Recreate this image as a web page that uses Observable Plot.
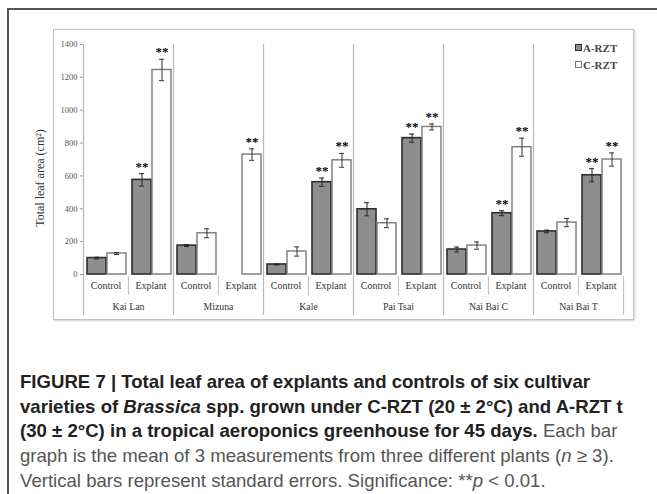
<!DOCTYPE html>
<html>
<head>
<meta charset="utf-8">
<script src="https://cdn.jsdelivr.net/npm/d3@7"></script>
<script src="https://cdn.jsdelivr.net/npm/@observablehq/plot@0.6"></script>
<style>
  html, body { margin: 0; padding: 0; background: #fff; }
  #page { position: relative; width: 657px; height: 494px; overflow: hidden; }
  #outer { position: absolute; left: 7px; top: 8px; width: 700px; height: 520px;
           border-left: 2px solid #555; border-top: 2px solid #555; }
  #box { position: absolute; left: 53px; top: 29px; width: 579px; height: 289px;
         border: 1.5px solid #c2c2c2; box-shadow: 1px 1px 2px #d0d0d0; }
  #chart { position: absolute; left: 0; top: 0; }
  #ytitle { position: absolute; left: 40px; top: 178px; transform: translate(-50%, -50%) rotate(-90deg);
            font-family: "Liberation Serif", serif; font-size: 12px; color: #333; white-space: nowrap; }
  #legend { position: absolute; left: 575px; top: 40px; font-family: "Liberation Serif", serif;
            font-size: 11px; font-weight: bold; color: #444; line-height: 17px; }
  #legend .sw { display: inline-block; width: 5px; height: 5px; margin-right: 1px; vertical-align: 1px; }
  #caption { position: absolute; left: 20px; top: 370px; font-family: "Liberation Sans", Arial, sans-serif;
             font-size: 18.6px; line-height: 24.7px; color: #555; white-space: nowrap; }
  #caption b { color: #222; }
</style>
</head>
<body>
<div id="page">
  <div id="outer"></div>
  <div id="box"></div>
  <div id="chart"></div>
  <div id="ytitle">Total leaf area (cm²)</div>
  <div id="legend"></div>
  <div id="caption"></div>
</div>
<script>
// ---- data ----
const cultivars = ["Kai Lan", "Mizuna", "Kale", "Pai Tsai", "Nai Bai C", "Nai Bai T"];
const conditions = ["Control", "Explant"];
const seriesNames = ["A-RZT", "C-RZT"];

const aRztControl   = [100, 176, 61, 397, 152, 262];
const aRztControlSe = [5, 6, 3, 40, 15, 8];
const aRztExplant   = [576, null, 562, 830, 373, 604];
const aRztExplantSe = [38, null, 25, 25, 15, 40];

const cRztControl   = [128, 251, 140, 312, 176, 316];
const cRztControlSe = [6, 27, 28, 27, 22, 25];
const cRztExplant   = [1245, 730, 695, 898, 775, 700];
const cRztExplantSe = [65, 35, 42, 18, 55, 40];

const sigAExplant = ["**", "", "**", "**", "**", "**"];
const sigCExplant = ["**", "**", "**", "**", "**", "**"];

const yTicks = [0, 200, 400, 600, 800, 1000, 1200, 1400];

// ---- build table ----
const keyOf = (c, k) => c + "|" + k;
const keys = cultivars.flatMap(c => conditions.map(k => keyOf(c, k)));
const rows = [];
cultivars.forEach((c, i) => {
  rows.push({cultivar: c, condition: "Control", key: keyOf(c, "Control"), series: "A-RZT", value: aRztControl[i], se: aRztControlSe[i], sig: ""});
  rows.push({cultivar: c, condition: "Explant", key: keyOf(c, "Explant"), series: "A-RZT", value: aRztExplant[i], se: aRztExplantSe[i], sig: sigAExplant[i]});
  rows.push({cultivar: c, condition: "Control", key: keyOf(c, "Control"), series: "C-RZT", value: cRztControl[i], se: cRztControlSe[i], sig: ""});
  rows.push({cultivar: c, condition: "Explant", key: keyOf(c, "Explant"), series: "C-RZT", value: cRztExplant[i], se: cRztExplantSe[i], sig: sigCExplant[i]});
});
const rowsA = rows.filter(d => d.series === "A-RZT" && d.value != null);
const rowsC = rows.filter(d => d.series === "C-RZT" && d.value != null);
const subgroups = keys.map(k => ({key: k, cultivar: k.split("|")[0], condition: k.split("|")[1]}));
const groupStarts = subgroups.filter(d => d.condition === "Control");
const innerStarts = subgroups.filter(d => d.condition === "Explant");

// ---- layout ----
const W = 657, H = 330;
const mL = 83, mR = 34, mT = 44, mB = 56;
const bw = (W - mL - mR) / keys.length;  // band width per subgroup
const half = bw / 2;

const style = {fill: "#8e8e8e", stroke: "#2e2e2e"};
const dxA = -9, dxC = 11;

const chart = Plot.plot({
  width: W, height: H,
  marginLeft: mL, marginRight: mR, marginTop: mT, marginBottom: mB,
  style: {fontFamily: "Liberation Serif, serif", background: "transparent", overflow: "visible"},
  x: {type: "band", domain: keys, padding: 0, axis: null},
  y: {domain: [0, 1400], axis: null},
  marks: [
    // y axis
    Plot.axisY(yTicks, {anchor: "left", tickSize: 3, tickPadding: 3, fontSize: 8.5, label: null, tickFormat: d => String(d), color: "#555", stroke: "#999"}),
    // axis line + group separators (extend below the baseline into the category table)
    Plot.ruleX(groupStarts, {x: "key", dx: -half, y1: 1400, y2: 0, insetBottom: -41, stroke: "#b8b8b8", strokeWidth: 1.2}),
    Plot.ruleX([keys[keys.length - 1]], {x: d => d, dx: half, y1: 0, y2: 0, insetTop: 2, insetBottom: -41, stroke: "#c4c4c4", strokeWidth: 1.2}),
    Plot.ruleX(innerStarts, {x: "key", dx: -half, y1: 0, y2: 0, insetTop: 2, insetBottom: -21, stroke: "#c4c4c4", strokeWidth: 1.2}),
    // bars
    Plot.barY(rowsA, {x: "key", y: "value", insetLeft: 4, insetRight: 22, fill: style.fill, stroke: style.stroke, strokeWidth: 1.6}),
    Plot.barY(rowsC, {x: "key", y: "value", insetLeft: 24, insetRight: 2, fill: "white", stroke: "#7a7a7a", strokeWidth: 1.4}),
    // error bars
    Plot.ruleX(rowsA, {x: "key", dx: dxA, y1: d => d.value - d.se, y2: d => d.value + d.se, stroke: "#222", strokeWidth: 1}),
    Plot.tickY(rowsA, {x: "key", y: d => d.value + d.se, insetLeft: 11, insetRight: 29, stroke: "#222"}),
    Plot.tickY(rowsA, {x: "key", y: d => d.value - d.se, insetLeft: 11, insetRight: 29, stroke: "#222"}),
    Plot.ruleX(rowsC, {x: "key", dx: dxC, y1: d => d.value - d.se, y2: d => d.value + d.se, stroke: "#333", strokeWidth: 1}),
    Plot.tickY(rowsC, {x: "key", y: d => d.value + d.se, insetLeft: 31, insetRight: 9, stroke: "#333"}),
    Plot.tickY(rowsC, {x: "key", y: d => d.value - d.se, insetLeft: 31, insetRight: 9, stroke: "#333"}),
    // significance marks
    Plot.text(rowsA.filter(d => d.sig), {x: "key", dx: dxA, y: d => d.value + d.se, text: "sig", dy: -3, lineAnchor: "bottom", fontSize: 13, fontWeight: "bold", fill: "black"}),
    Plot.text(rowsC.filter(d => d.sig), {x: "key", dx: dxC, y: d => d.value + d.se, text: "sig", dy: -3, lineAnchor: "bottom", fontSize: 13, fontWeight: "bold", fill: "black"}),
    // category table labels
    Plot.text(subgroups, {x: "key", text: "condition", frameAnchor: "bottom", dy: 14, fontSize: 10, fill: "#333"}),
    Plot.text(groupStarts, {x: "key", text: "cultivar", dx: half, frameAnchor: "bottom", dy: 35, fontSize: 9.8, fill: "#333"})
  ]
});
document.getElementById("chart").appendChild(chart);

// legend
const legend = document.getElementById("legend");
seriesNames.forEach((s, i) => {
  const row = document.createElement("div");
  const sw = document.createElement("span");
  sw.className = "sw";
  sw.style.background = i === 0 ? style.fill : "#fff";
  sw.style.border = i === 0 ? "1.2px solid #2e2e2e" : "1.2px solid #7a7a7a";
  row.appendChild(sw);
  row.appendChild(document.createTextNode(s));
  legend.appendChild(row);
});

// caption
document.getElementById("caption").innerHTML =
  "<b>FIGURE 7 | Total leaf area of explants and controls of six cultivar</b><br>" +
  "<b>varieties of <i>Brassica</i> spp. grown under C-RZT (20 ± 2°C) and A-RZT t</b><br>" +
  "<b>(30 ± 2°C) in a tropical aeroponics greenhouse for 45 days.</b> Each bar<br>" +
  "graph is the mean of 3 measurements from three different plants (<i>n</i> ≥ 3).<br>" +
  "Vertical bars represent standard errors. Significance: **<i>p</i> &lt; 0.01.";
</script>
</body>
</html>
